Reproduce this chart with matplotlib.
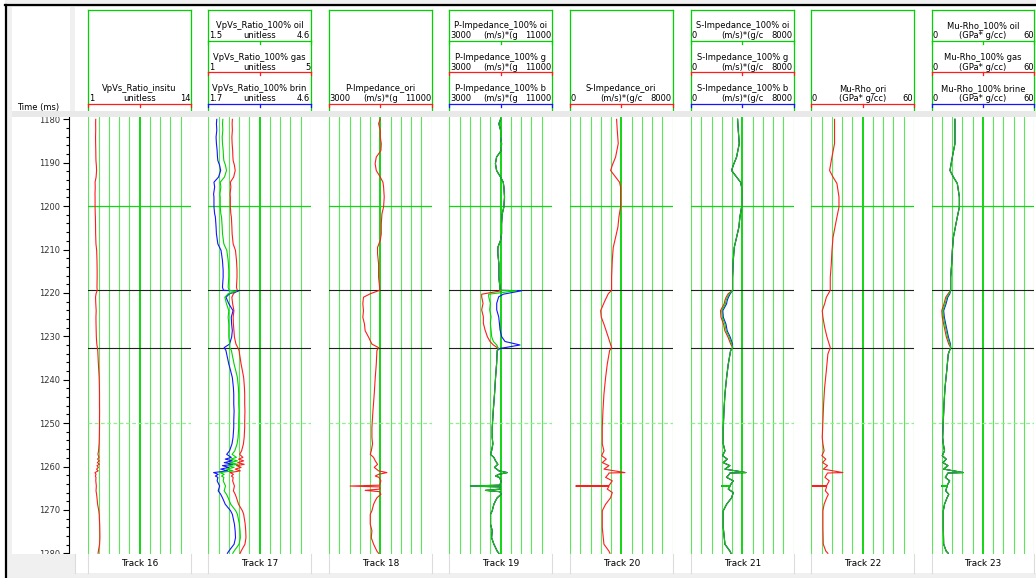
import numpy as np
import matplotlib.pyplot as plt
from matplotlib.patches import Rectangle
from matplotlib.lines import Line2D

# ---------------- data (time in ms, values in curve units) ----------------
vpvs_t = [1180.0, 1181.0, 1182.5, 1184.1, 1185.6, 1187.2, 1188.7, 1189.5, 1190.6, 1191.8,
          1193.3, 1194.5, 1195.6, 1197.2, 1198.0, 1200.2, 1201.8, 1202.5, 1204.8, 1206.4,
          1208.7, 1210.2, 1212.5, 1214.8, 1216.4, 1218.7, 1219.4, 1220.2, 1221.0, 1222.5,
          1224.1, 1225.6, 1227.2, 1228.7, 1230.2, 1231.8, 1232.6, 1233.3, 1234.1, 1236.4,
          1237.9, 1239.5, 1241.8, 1243.3, 1245.6, 1247.2, 1249.5, 1251.0, 1253.3, 1254.8,
          1256.4, 1257.2, 1257.9, 1258.3, 1258.7, 1259.1, 1259.5, 1259.8, 1260.2, 1260.6,
          1261.0, 1261.4, 1261.8, 1262.2, 1262.5, 1263.3, 1264.5, 1265.6, 1266.4, 1267.2,
          1268.7, 1270.2, 1271.0, 1273.3, 1274.8, 1276.4, 1277.9, 1279.5, 1280.0]
vpvs_insitu = [1.94, 1.93, 1.94, 1.92, 1.93, 1.95, 1.96, 1.97, 2.02, 2.05,
               1.99, 1.86, 1.88, 1.85, 1.86, 1.86, 1.88, 1.90, 1.92, 1.93,
               1.97, 2.06, 2.10, 2.12, 2.12, 2.10, 2.13, 1.98, 1.92, 1.95,
               2.00, 1.97, 1.98, 2.00, 2.02, 2.08, 2.15, 2.20, 2.22, 2.28,
               2.33, 2.38, 2.41, 2.42, 2.42, 2.43, 2.42, 2.42, 2.40, 2.37,
               2.30, 2.22, 2.35, 2.18, 2.38, 2.15, 2.40, 2.10, 2.28, 2.05,
               2.25, 1.85, 1.98, 1.90, 1.97, 1.95, 2.02, 1.98, 2.05, 2.10,
               2.18, 2.33, 2.38, 2.44, 2.46, 2.47, 2.43, 2.28, 2.24]
vpvs_res_t = [1219.4, 1219.6, 1220.2, 1221.0, 1222.5, 1224.1, 1225.6, 1227.2, 1228.7, 1230.2, 1231.8, 1232.6]
vpvs_gas = [2.13, 2.10, 1.98, 1.92, 1.95, 2.00, 1.97, 1.98, 2.00, 2.02, 2.08, 2.15]
vpvs_oil = [2.13, 2.35, 2.10, 2.00, 2.05, 2.12, 2.10, 2.12, 2.12, 2.12, 2.15, 2.15]
vpvs_brine = [2.13, 2.55, 2.30, 2.20, 2.28, 2.40, 2.35, 2.36, 2.38, 2.36, 2.30, 2.15]

ip_t = [1180.0, 1181.0, 1182.5, 1184.1, 1185.6, 1187.2, 1188.7, 1190.2, 1191.8, 1193.3,
        1194.5, 1195.6, 1197.9, 1200.2, 1201.8, 1204.1, 1206.4, 1207.9, 1209.5, 1211.0,
        1213.3, 1216.4, 1218.7, 1219.4, 1220.2, 1221.0, 1222.5, 1224.1, 1225.6, 1227.2,
        1228.7, 1230.2, 1231.8, 1232.6, 1233.3, 1236.4, 1239.5, 1243.3, 1247.2, 1251.0,
        1253.3, 1254.8, 1256.4, 1257.2, 1257.9, 1258.7, 1259.5, 1260.2, 1261.0, 1261.4,
        1261.8, 1262.2, 1262.5, 1263.3, 1264.3, 1264.5, 1264.7, 1265.2, 1265.5, 1265.8,
        1266.4, 1267.2, 1267.9, 1268.7, 1270.2, 1271.0, 1273.3, 1274.8, 1276.4, 1277.9,
        1279.5, 1280.0]
ip_ori = [7000, 6870, 7000, 7000, 7080, 7050, 6690, 6600, 6690, 7000,
          7210, 7260, 7310, 7260, 7130, 7080, 7080, 7000, 6790, 6790,
          6870, 6870, 6950, 6950, 6220, 5690, 5640, 5690, 5640, 5770,
          5820, 6090, 6350, 6870, 6740, 6690, 6610, 6530, 6430, 6350,
          6350, 6400, 6300, 6220, 6480, 6610, 6790, 6530, 6870, 7520,
          6870, 6610, 6900, 7050, 6950, 4650, 6950, 7000, 5820, 6950,
          7050, 6740, 6610, 6480, 6350, 6220, 6220, 6350, 6300, 6480,
          6740, 6870]
ip_res_t = [1219.5, 1220.3, 1220.9, 1222.4, 1223.9, 1225.5, 1227.0, 1228.5, 1230.1, 1231.2, 1232.0, 1232.8]
ip_gas = [7090, 5528, 5528, 5632, 5528, 5658, 5658, 5788, 5971, 6180, 6440, 6830]
ip_oil = [8260, 6075, 6075, 6205, 6153, 6257, 6205, 6257, 6310, 6440, 6700, 6830]
ip_brine = [8650, 7220, 6855, 6700, 6700, 6855, 6910, 6960, 7090, 7350, 8520, 6960]

is_t = [1180.0, 1182.5, 1185.6, 1188.7, 1190.6, 1191.8, 1193.3, 1194.5, 1195.6, 1197.9,
        1200.2, 1202.5, 1204.8, 1207.2, 1209.5, 1212.5, 1216.4, 1219.4, 1220.2, 1221.8,
        1224.1, 1225.6, 1227.2, 1230.2, 1232.6, 1233.3, 1236.4, 1239.5, 1243.3, 1247.2,
        1251.0, 1254.8, 1256.4, 1257.5, 1258.3, 1259.1, 1259.8, 1260.6, 1261.4, 1261.5,
        1261.8, 1262.5, 1263.3, 1264.4, 1264.5, 1264.6, 1265.2, 1266.0, 1267.2, 1268.7,
        1270.2, 1274.1, 1277.9, 1279.5, 1280.0]
is_ori = [3636, 3688, 3766, 3558, 3299, 3169, 3558, 3870, 3948, 3948,
          3948, 3818, 3740, 3558, 3377, 3299, 3247, 3247, 2987, 2727,
          2390, 2442, 2649, 2987, 3247, 3091, 2909, 2779, 2649, 2571,
          2519, 2519, 2649, 2468, 2830, 2519, 3039, 2649, 4290, 3039,
          2987, 2779, 3299, 3039, 450, 3039, 2909, 3299, 3169, 2779,
          2519, 2519, 2649, 3039, 3120]
# the substituted curves do not carry the deep spike at 1264.5 ms
is_fl_spike_t = [1264.4, 1264.5, 1264.6]
is_fl_spike = [3039, 2390, 3039]
is_res_t = [1219.4, 1220.2, 1221.0, 1221.8, 1222.5, 1224.1, 1225.6, 1227.2, 1228.7, 1230.2, 1231.8, 1232.6]
is_gas = [3247, 2900, 2740, 2640, 2590, 2300, 2340, 2540, 2640, 2890, 3100, 3247]
is_oil = [3247, 2990, 2840, 2730, 2690, 2400, 2440, 2650, 2740, 2990, 3180, 3247]
is_brine = [3247, 3060, 2920, 2820, 2780, 2480, 2520, 2730, 2820, 3060, 3240, 3247]

mr_t = [1180.0, 1182.5, 1185.6, 1189.5, 1191.8, 1193.3, 1194.8, 1197.9, 1200.2, 1203.3,
        1207.2, 1210.2, 1213.3, 1216.4, 1219.4, 1221.0, 1222.5, 1224.1, 1225.6, 1227.9,
        1230.2, 1232.6, 1234.1, 1237.9, 1241.8, 1245.6, 1249.5, 1253.3, 1254.8, 1256.4,
        1257.5, 1258.3, 1259.1, 1259.8, 1260.6, 1261.4, 1261.5, 1262.5, 1263.3, 1264.4,
        1264.5, 1264.6, 1265.6, 1266.4, 1267.2, 1268.7, 1270.2, 1274.1, 1277.9, 1279.5,
        1280.0]
mr_ori = [13.6, 13.6, 13.6, 11.7, 10.7, 12.7, 15.0, 16.2, 16.2, 14.6,
          12.7, 12.1, 11.7, 11.1, 11.1, 8.8, 7.8, 6.4, 6.8, 7.8,
          9.2, 11.1, 9.7, 8.8, 7.8, 7.2, 6.8, 6.4, 6.8, 7.5,
          6.2, 8.5, 6.6, 9.5, 7.0, 18.5, 9.5, 8.0, 10.5, 9.0,
          0.5, 9.0, 8.2, 10.0, 9.0, 7.5, 6.8, 6.8, 7.0, 8.5,
          9.7]
mr_fl_spike_t = [1264.4, 1264.5, 1264.6]
mr_fl_spike = [9.0, 5.8, 9.0]
mr_res_t = [1219.4, 1220.2, 1221.0, 1222.5, 1224.1, 1225.6, 1227.2, 1228.7, 1230.2, 1231.8, 1232.6]
mr_gas = [11.1, 9.6, 8.2, 7.2, 5.9, 6.2, 7.0, 7.8, 8.6, 10.0, 11.1]
mr_oil = [11.1, 10.2, 8.9, 7.9, 6.5, 6.9, 7.7, 8.5, 9.3, 10.6, 11.1]
mr_brine = [11.1, 10.6, 9.4, 8.4, 7.0, 7.4, 8.2, 9.0, 9.8, 11.0, 11.1]

markers = [1219.4, 1232.7]
track_names = ["Track 16", "Track 17", "Track 18", "Track 19",
               "Track 20", "Track 21", "Track 22", "Track 23"]

# ---------------- layout helpers (pixel coordinates) ----------------
W, H = 1036, 578
TW = 102.5
LEFTS = [88.3, 208.3, 329.0, 449.3, 570.0, 691.0, 811.3, 931.7]
Y_TOP, Y_BOT = 117, 554
T_TOP, T_BOT = 1179.47, 1280.16
FS = 6.0
RED, GREEN, BLUE = "#ff1c1c", "#00d400", "#1414ff"
GRID, GRID_MID = "#5ae85a", "#12d612"

fig = plt.figure(figsize=(W / 100, H / 100), dpi=100, facecolor="#f0f0f0")


def rect(x0, y0, x1, y1):
    return [x0 / W, 1 - y1 / H, (x1 - x0) / W, (y1 - y0) / H]


def box(x0, y0, x1, y1, color, z):
    fig.add_artist(Rectangle((x0 / W, 1 - y1 / H), (x1 - x0) / W, (y1 - y0) / H,
                             transform=fig.transFigure, facecolor=color,
                             edgecolor="none", zorder=z))


def line(xs, ys, color, lw, z):
    fig.add_artist(Line2D([x / W for x in xs], [1 - y / H for y in ys],
                          transform=fig.transFigure, color=color, lw=lw, zorder=z))


def splice(bt, bv, rt, rv):
    bt, bv = np.asarray(bt), np.asarray(bv)
    lo, hi = bt < rt[0], bt > rt[-1]
    return (np.concatenate([bt[lo], rt, bt[hi]]),
            np.concatenate([bv[lo], rv, bv[hi]]))


# backgrounds
box(0, 0, 5, H, "white", -20)
box(12, 7, 70, 111, "white", -20)
box(75, 7, W, 111, "white", -20)
box(12, 111, W, Y_BOT, "white", -20)
line([6, 6], [5, H], "black", 1.6, 20)
line([5, W], [5, 5], "black", 1.6, 20)

# separator band between header and data, bottom strip
box(12, 111, W, Y_TOP, "#e9e9e9", 10)
box(0, 553.5, W, H, "#f0f0f0", 9)
box(0, 0, 5, H, "white", 9)
box(75, 553.5, W, 572.5, "white", 10)

fig.text(17 / W, 1 - 107 / H, "Time (ms)", fontsize=FS, ha="left", va="center")

# time axis
ax_t = fig.add_axes(rect(68.5, Y_TOP, 75, Y_BOT))
ax_t.patch.set_alpha(0)
ax_t.set_ylim(T_BOT, T_TOP)
ax_t.set_xticks([])
for s in ["top", "right", "bottom"]:
    ax_t.spines[s].set_visible(False)
ax_t.spines["left"].set_linewidth(0.8)
ax_t.set_yticks(range(1180, 1281, 10))
ax_t.set_yticks(range(1180, 1281, 2), minor=True)
ax_t.tick_params(axis="y", which="major", length=4.3, width=0.8, labelsize=FS, pad=2,
                 labelcolor="#333333")
ax_t.tick_params(axis="y", which="minor", length=2.2, width=0.8)


def header(x0, sections):
    # sections: list of (row, name, lo, unit, hi, color); row 0..2 top to bottom
    ax = fig.add_axes(rect(x0, 9, x0 + TW, 111))
    ax.set_xlim(0, 1)
    ax.set_ylim(111, 9)
    ax.axis("off")
    for xs, ys in [([0, 0], [111, 10.5]), ([1, 1], [111, 10.5]), ([0, 1], [10.5, 10.5])]:
        ax.plot(xs, ys, color=GREEN, lw=0.9, clip_on=False)
    for row, name, lo, unit, hi, col in sections:
        yl = 41 + row * 31.5
        ax.text(0.5, yl - 15.5, name, fontsize=FS, ha="center", va="center")
        ax.text(0.005, yl - 5, lo, fontsize=FS, ha="left", va="center")
        ax.text(0.5, yl - 5, unit, fontsize=FS, ha="center", va="center")
        ax.text(0.995, yl - 5, hi, fontsize=FS, ha="right", va="center")
        ax.plot([0, 1], [yl, yl], color=col, lw=0.9, clip_on=False)
        for xt in (0, 0.5, 1):
            ax.plot([xt, xt], [yl, yl + 3], color=col, lw=0.9, clip_on=False)


def track(x0):
    ax = fig.add_axes(rect(x0, Y_TOP, x0 + TW, Y_BOT))
    ax.set_xlim(0, 10)
    ax.set_ylim(T_BOT, T_TOP)
    ax.axis("off")
    for g in range(11):
        ax.axvline(g, color=GRID_MID if g == 5 else GRID, lw=1.4 if g == 5 else 0.8, zorder=1)
    ax.axhline(1200, color=GRID_MID, lw=0.9, zorder=1)
    ax.axhline(1250, color="#8ef08e", lw=0.9, ls=(0, (3, 2)), zorder=1)
    for m in markers:
        ax.axhline(m, color="#202020", lw=0.8, zorder=2)
    return ax


def curve(x0, lo, hi, t, v, col):
    ax = fig.add_axes(rect(x0, Y_TOP, x0 + TW, Y_BOT))
    ax.set_xlim(lo, hi)
    ax.set_ylim(T_BOT, T_TOP)
    ax.axis("off")
    ax.patch.set_alpha(0)
    ax.plot(v, t, color=col, lw=0.8)


for i, x0 in enumerate(LEFTS):
    track(x0)
    fig.text((x0 + TW / 2) / W, 1 - 563 / H, track_names[i], fontsize=FS + 0.4,
             ha="center", va="center", zorder=12)
    for xe in (x0, x0 + TW):
        line([xe, xe], [553.5, 572.5], "#dcdcdc", 0.8, 11)
line([75, 75], [553.5, 572.5], "#dcdcdc", 0.8, 11)

# Track 16
header(LEFTS[0], [(2, "VpVs_Ratio_insitu", "1", "unitless", "14", RED)])
curve(LEFTS[0], 1, 14, vpvs_t, vpvs_insitu, RED)

# Track 17
header(LEFTS[1], [(0, "VpVs_Ratio_100% oil", "1.5", "unitless", "4.6", GREEN),
                  (1, "VpVs_Ratio_100% gas", "1", "unitless", "5", RED),
                  (2, "VpVs_Ratio_100% brin", "1.7", "unitless", "4.6", BLUE)])
t, v = splice(vpvs_t, vpvs_insitu, vpvs_res_t, vpvs_gas)
curve(LEFTS[1], 1, 5, t, v, RED)
t, v = splice(vpvs_t, vpvs_insitu, vpvs_res_t, vpvs_brine)
curve(LEFTS[1], 1.7, 4.6, t, v, BLUE)
t, v = splice(vpvs_t, vpvs_insitu, vpvs_res_t, vpvs_oil)
curve(LEFTS[1], 1.5, 4.6, t, v, GREEN)

# Track 18
header(LEFTS[2], [(2, "P-Impedance_ori", "3000", "(m/s)*(g", "11000", RED)])
curve(LEFTS[2], 3000, 11000, ip_t, ip_ori, RED)

# Track 19
header(LEFTS[3], [(0, "P-Impedance_100% oi", "3000", "(m/s)*(g", "11000", GREEN),
                  (1, "P-Impedance_100% g", "3000", "(m/s)*(g", "11000", RED),
                  (2, "P-Impedance_100% b", "3000", "(m/s)*(g", "11000", BLUE)])
for rv, col in [(ip_gas, RED), (ip_brine, BLUE), (ip_oil, GREEN)]:
    t, v = splice(ip_t, ip_ori, ip_res_t, rv)
    curve(LEFTS[3], 3000, 11000, t, v, col)

# Track 20
header(LEFTS[4], [(2, "S-Impedance_ori", "0", "(m/s)*(g/c", "8000", RED)])
curve(LEFTS[4], 0, 8000, is_t, is_ori, RED)

# Track 21
header(LEFTS[5], [(0, "S-Impedance_100% oi", "0", "(m/s)*(g/c", "8000", GREEN),
                  (1, "S-Impedance_100% g", "0", "(m/s)*(g/c", "8000", RED),
                  (2, "S-Impedance_100% b", "0", "(m/s)*(g/c", "8000", BLUE)])
for rv, col in [(is_gas, RED), (is_brine, BLUE), (is_oil, GREEN)]:
    t, v = splice(is_t, is_ori, is_fl_spike_t, is_fl_spike)
    t, v = splice(t, v, is_res_t, rv)
    curve(LEFTS[5], 0, 8000, t, v, col)

# Track 22
header(LEFTS[6], [(2, "Mu-Rho_ori", "0", "(GPa* g/cc)", "60", RED)])
curve(LEFTS[6], 0, 60, mr_t, mr_ori, RED)

# Track 23
header(LEFTS[7], [(0, "Mu-Rho_100% oil", "0", "(GPa* g/cc)", "60", GREEN),
                  (1, "Mu-Rho_100% gas", "0", "(GPa* g/cc)", "60", RED),
                  (2, "Mu-Rho_100% brine", "0", "(GPa* g/cc)", "60", BLUE)])
for rv, col in [(mr_gas, RED), (mr_brine, BLUE), (mr_oil, GREEN)]:
    t, v = splice(mr_t, mr_ori, mr_fl_spike_t, mr_fl_spike)
    t, v = splice(t, v, mr_res_t, rv)
    curve(LEFTS[7], 0, 60, t, v, col)

fig.savefig("out.png", dpi=100, facecolor=fig.get_facecolor())
